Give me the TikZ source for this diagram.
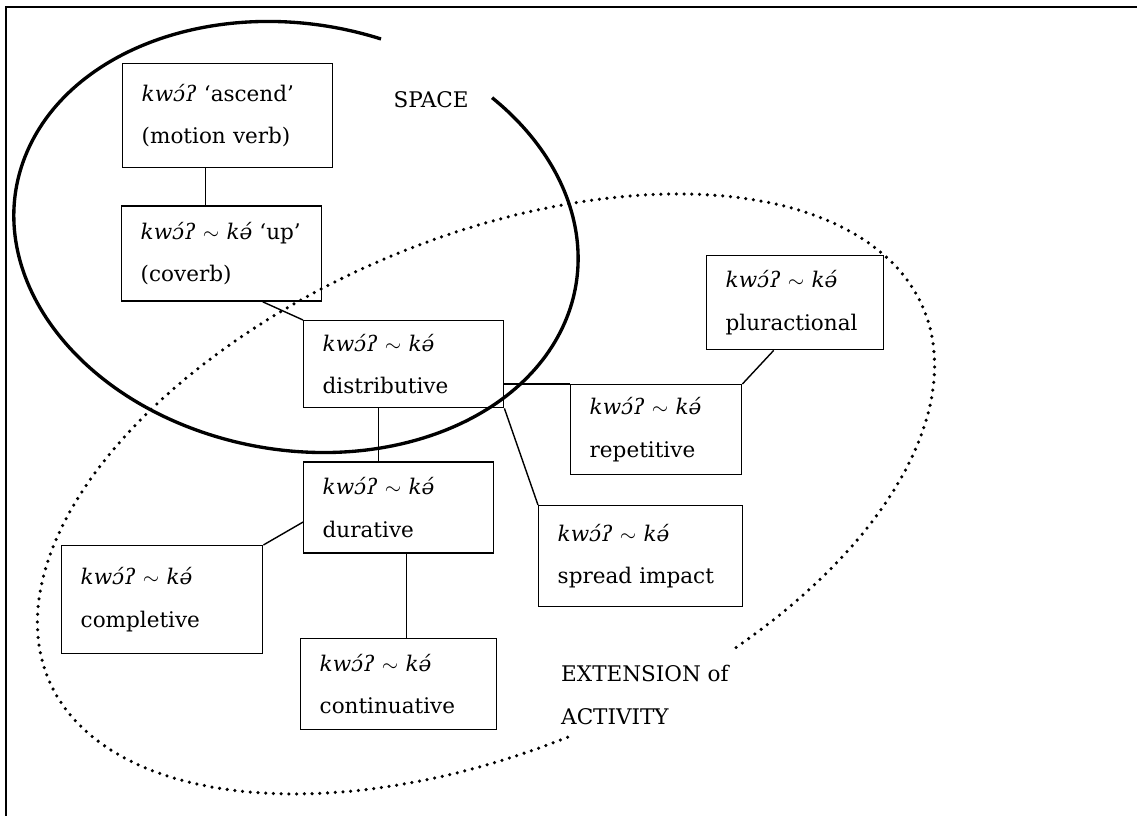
\documentclass[tikz,border=0pt]{standalone}
\usepackage{fontspec}
\setmainfont{DejaVu Serif}
\usepackage{tikz}
\usetikzlibrary{calc, positioning}

\newcommand{\kwka}{\textit{kwɔ́ʔ} $\sim$ \textit{kə́}}

\begin{document}
\begin{tikzpicture}[font=\fontsize{12.25}{24}\selectfont,
	gloss/.style={draw, line width=0.8pt, align=left, anchor=north west, inner xsep=0.38cm, inner ysep=0pt},
	link/.style={line width=0.8pt},
	spacezone/.style={line width=1.9pt},
	extzone/.style={line width=2pt, dash pattern=on 0pt off 4.4pt, line cap=round}]

		\useasboundingbox (0,0) rectangle (22.74,16.32);
		\draw[line width=0.9pt] (0.12,0) -- (0.12,16.18) -- (22.74,16.18);

		% nodes - meanings of kwo %
		\node[gloss, text width=3.44cm, minimum height=2.08cm] (ascend) at (2.44,15.06) {\textit{kwɔ́ʔ} ‘ascend’\\(motion verb)};
		\node[gloss, text width=3.24cm, minimum height=1.9cm, below=0.74cm of ascend.south west, anchor=north west, xshift=-0.02cm] (up) {\kwka{} ‘up’\\(coverb)};
		\node[gloss, text width=3.24cm, minimum height=1.74cm] (distr) at (6.06,9.92) {\kwka\\distributive};
		\node[gloss, text width=2.78cm, minimum height=1.88cm] (plur) at (14.12,11.22) {\kwka\\pluractional};
		\node[gloss, text width=2.66cm, minimum height=1.8cm] (rep) at (11.4,8.64) {\kwka\\repetitive};
		\node[gloss, text width=3.04cm, minimum height=1.82cm, below=1.06cm of distr.south west, anchor=north west] (dur) {\kwka\\durative};
		\node[gloss, text width=3.32cm, minimum height=2.02cm] (spr) at (10.76,6.22) {\kwka\\spread impact};
		\node[gloss, text width=3.26cm, minimum height=2.16cm] (compl) at (1.22,5.42) {\kwka\\completive};
		\node[gloss, text width=3.16cm, minimum height=1.82cm] (cont) at (6.0,3.56) {\kwka\\continuative};

		% domain labels %
		\node (space) at (8.62,14.32) {SPACE};
		\node[align=left, anchor=west] (ext) at (11.1,2.42) {EXTENSION of\\ACTIVITY};

		% edges %
		\draw[link] ([xshift=-0.44cm]ascend.south) coordinate (a1) -- (a1 |- up.north);
		\draw[link] ([xshift=0.82cm]up.south) -- (distr.north west);
		\draw[link] (distr.east |- rep.north) -- (rep.north west);
		\draw[link] (rep.north east) -- ([xshift=-0.43cm]plur.south);
		\draw[link] ([xshift=-0.5cm]distr.south) coordinate (d1) -- (d1 |- dur.north);
		\draw[link] (distr.south east) -- (spr.north west);
		\draw[link] ([yshift=-0.29cm]dur.west) -- (compl.north east);
		\draw[link] ([xshift=0.16cm]dur.south) coordinate (d2) -- (d2 |- cont.north);

		% domains %
		\draw[spacezone, shift={(5.92,11.58)}, rotate=-10] (80:5.68cm and 4.26cm) arc[start angle=80, end angle=413.5, x radius=5.68cm, y radius=4.26cm];
		\draw[extzone, shift={(9.72,6.44)}, rotate=23] (-69:9.5cm and 5.12cm) arc[start angle=-69, end angle=268, x radius=9.5cm, y radius=5.12cm];

\end{tikzpicture}
\end{document}
